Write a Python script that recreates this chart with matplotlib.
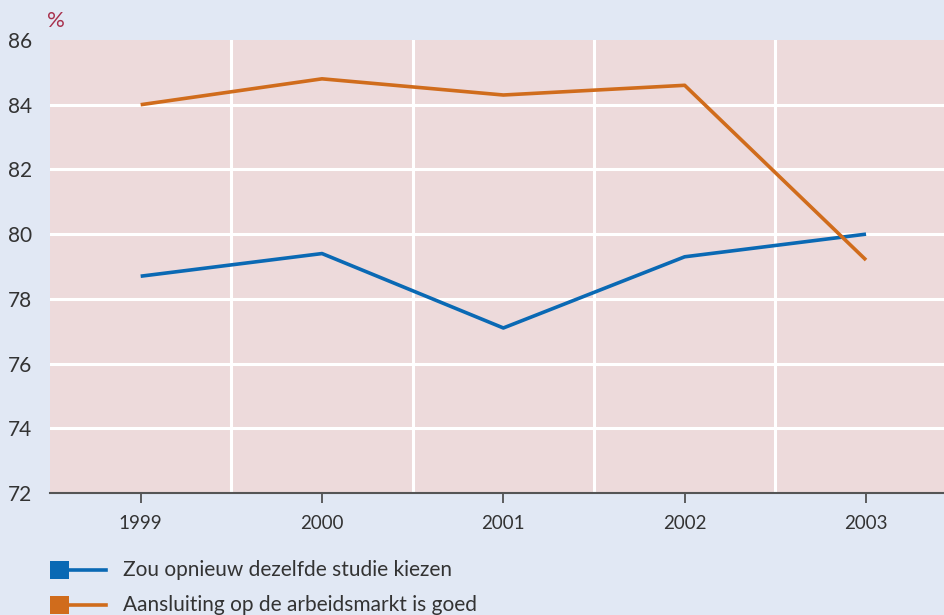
import matplotlib
matplotlib.use("Agg")
import matplotlib.pyplot as plt
from matplotlib.patches import Rectangle
from matplotlib.lines import Line2D

years = [1999, 2000, 2001, 2002, 2003]
zelfde_studie = [78.7, 79.4, 77.1, 79.3, 80.0]
arbeidsmarkt = [84.0, 84.8, 84.3, 84.6, 79.2]
series_labels = ["Zou opnieuw dezelfde studie kiezen",
                 "Aansluiting op de arbeidsmarkt is goed"]
y_ticks = [72, 74, 76, 78, 80, 82, 84, 86]

bg = "#e1e8f4"
plot_bg = "#eddadb"
blue = "#0a69b4"
orange = "#d06c1c"
text_col = "#333333"

plt.rcParams["font.family"] = ["Lato", "DejaVu Sans"]

fig = plt.figure(figsize=(9.44, 6.15), dpi=100, facecolor=bg)
W, H = 944, 615
ax = fig.add_axes([50 / W, 1 - 493 / H, 1 - 50 / W, (493 - 40) / H])
ax.set_facecolor(plot_bg)

ax.set_xlim(1998.5, 2003.43)
ax.set_ylim(72, 86)

# white grid: horizontal at each value tick, vertical between years
for y in y_ticks[1:-1]:
    ax.axhline(y, color="white", lw=2.2, zorder=1)
for x in years[:-1]:
    ax.axvline(x + 0.5, color="white", lw=2.2, zorder=1)

ax.plot(years, zelfde_studie, color=blue, lw=2.6, zorder=3, solid_capstyle="butt")
ax.plot(years, arbeidsmarkt, color=orange, lw=2.6, zorder=3, solid_capstyle="butt")

for s in ["top", "right", "left"]:
    ax.spines[s].set_visible(False)
ax.spines["bottom"].set_color("#555555")
ax.spines["bottom"].set_linewidth(1.5)

ax.set_xticks(years)
ax.set_xticklabels([str(y) for y in years])
ax.tick_params(axis="x", direction="out", length=7, width=1.2, color="#444444",
               pad=9, labelsize=13.5, labelcolor=text_col)
ax.set_yticks(y_ticks)
ax.set_yticklabels([str(v) for v in y_ticks])
ax.tick_params(axis="y", length=0, pad=13, labelsize=15, labelcolor=text_col)

fig.text(47 / W, 1 - 21 / H, "%", color="#a8304c", fontsize=16, va="center", ha="left")

# legend drawn below the axes
for i, (lab, col) in enumerate(zip(series_labels, [blue, orange])):
    yc = 570 + i * 35
    fig.add_artist(Rectangle((50 / W, 1 - (yc + 9) / H), 19 / W, 18 / H,
                             transform=fig.transFigure, facecolor=col,
                             edgecolor="none"))
    fig.add_artist(Line2D([69 / W, 106 / W], [1 - yc / H, 1 - yc / H],
                          transform=fig.transFigure, color=col, lw=2.6))
    fig.text(123 / W, 1 - yc / H, lab, fontsize=15, color=text_col,
             va="center", ha="left")

fig.savefig("out.png", dpi=100, facecolor=bg)
